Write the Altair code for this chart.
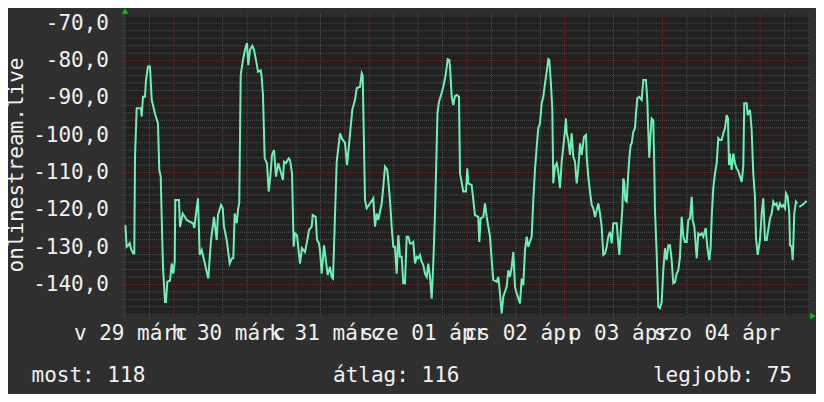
import altair as alt
import pandas as pd

# ---------------- data ----------------
series_name = "onlinestream.live"

hours = [
    0.1, 0.4, 0.8, 1.15, 1.47, 2.04, 2.28, 2.46, 2.87, 3.93, 4.10, 4.42, 4.91, 5.16, 5.65, 6.14,
    6.56, 6.95, 7.44, 8.10, 8.42, 8.77, 8.96, 9.33, 9.82, 10.07, 10.39, 11.05, 11.47, 11.86, 12.21,
    12.35, 13.26, 13.51, 14.17, 15.15, 15.96, 16.70, 17.02, 17.44, 17.93, 18.35, 18.84, 19.23, 20.46,
    21.12, 21.86, 22.52, 22.84, 23.58, 24.00, 24.32, 24.98, 25.72, 26.28, 26.60, 26.94, 27.43, 27.75,
    28.07, 28.42, 28.98, 29.47, 29.96, 30.28, 30.70, 31.27, 31.68, 32.17, 32.67, 33.33, 33.57, 33.89,
    34.31, 34.88, 35.29, 35.69, 36.10, 36.60, 36.84, 37.09, 37.65, 38.81, 39.05, 39.54, 40.21, 40.53,
    41.02, 41.43, 41.75, 42.25, 42.98, 43.47, 44.21, 44.63, 45.19, 45.86, 46.10, 46.84, 47.16, 47.65,
    47.89, 48.31, 48.88, 49.78, 50.35, 50.77, 51.09, 52.00, 52.81, 53.30, 54.03, 54.53, 55.02, 55.83,
    56.49, 56.91, 57.72, 58.14, 58.38, 58.95, 59.36, 60.17, 60.99, 61.40, 61.82, 62.21, 63.05, 63.44,
    63.86, 64.42, 65.09, 65.50, 65.90, 66.31, 66.73, 67.13, 67.54, 67.96, 68.35, 68.77, 69.19, 69.58,
    70.00, 70.42, 70.81, 71.23, 71.64, 72.04, 72.45, 72.87, 73.27, 73.68, 74.10, 74.49, 74.91, 75.33,
    75.72, 76.14, 76.51, 76.75, 77.12, 77.78, 78.18, 78.77, 79.26, 79.65, 79.82, 80.24, 80.63, 81.05,
    81.47, 82.03, 82.28, 83.09, 83.75, 84.07, 84.32, 85.15, 85.96, 86.77, 87.02, 87.36, 88.00, 88.42,
    88.84, 89.65, 90.06, 90.46, 91.29, 91.69, 92.10, 92.52, 92.91, 93.75, 94.14, 94.56, 94.98, 95.37,
    95.79, 96.21, 97.02, 97.43, 97.83, 98.24, 98.66, 99.05, 99.89, 100.28, 100.70, 101.12, 101.51,
    101.93, 102.35, 102.74, 103.16, 103.57, 103.97, 104.21, 104.56, 104.95, 105.19, 105.61, 106.03,
    106.42, 106.84, 107.26, 107.65, 108.07, 108.31, 108.48, 108.88, 109.30, 109.71, 110.11, 110.52,
    110.94, 111.33, 111.75, 112.17, 112.73, 113.23, 113.40, 113.79, 114.21, 114.63, 115.02, 115.44,
    115.85, 116.25, 116.67, 117.08, 117.48, 117.89, 118.31, 118.70, 119.12, 119.54, 119.93, 120.77,
    121.16, 121.41, 121.75, 122.14, 122.39, 122.63, 122.88, 123.22, 123.61, 123.86, 124.20, 124.45,
    124.84, 125.26, 125.51, 125.83, 126.32, 126.90, 127.30, 127.96, 128.28, 128.53, 128.77, 129.07,
    129.36, 129.76, 129.98, 130.17, 130.59, 130.99, 131.40, 131.82, 132.21, 132.63, 133.05, 133.44,
    133.86, 134.27, 134.67, 135.09, 135.50, 135.90, 136.31, 136.73, 137.13, 137.54, 137.96, 138.35,
    138.77, 139.19, 139.43, 139.83, 140.42, 140.81, 141.23, 141.65, 142.04, 142.63, 143.02, 143.51,
    143.85, 144.10, 144.49, 144.91, 145.33, 145.72, 146.14, 146.55, 146.95, 147.37, 147.78, 148.10,
    148.35, 148.59, 149.01, 149.40, 149.82, 150.24, 150.63, 151.05, 151.46, 151.86, 152.10, 152.69,
    152.94, 153.51, 153.92, 154.31, 154.73, 154.98, 155.40, 155.96, 156.38, 156.77, 157.19, 157.61,
    158.00, 158.42, 158.84, 159.23, 159.65, 160.06, 160.46, 160.87, 161.29, 161.68, 162.10, 162.35,
    162.76, 163.16, 163.33, 163.75, 163.99, 164.14, 164.38, 164.80, 165.12, 165.40, 165.61, 166.60,
    167.43,
]

values = [
    -124.1, -129.9, -129.5, -128.9, -130.5, -131.7, -131.7, -105.7, -92.8, -92.8, -95.0, -89.7, -89.7,
    -85.2, -81.6, -81.6, -90.5, -92.3, -94.6, -96.8, -109.3, -111.0, -119.6, -135.3, -144.7, -144.7,
    -139.3, -139.0, -134.4, -137.1, -134.0, -117.4, -117.4, -124.6, -121.0, -122.7, -123.2, -123.6,
    -124.9, -121.0, -116.9, -132.1, -130.8, -132.6, -138.4, -128.1, -121.9, -128.1, -121.4, -118.7,
    -119.6, -124.6, -128.1, -134.4, -133.0, -133.0, -121.0, -123.6, -120.1, -118.0, -83.9, -79.8,
    -77.1, -75.3, -81.2, -77.1, -76.0, -77.1, -79.8, -83.0, -82.6, -84.3, -89.2, -106.2, -107.5,
    -115.1, -111.1, -105.3, -104.0, -107.5, -111.1, -107.5, -112.0, -107.1, -107.5, -106.2, -106.7,
    -110.2, -129.9, -126.3, -126.8, -134.4, -130.3, -131.3, -129.0, -125.4, -124.5, -121.4, -121.9,
    -128.1, -129.0, -130.8, -137.1, -129.5, -137.5, -135.3, -138.0, -138.4, -107.1, -99.5, -101.0,
    -102.0, -108.0, -102.5, -93.2, -90.5, -87.4, -87.0, -83.4, -84.0, -117.4, -119.6, -118.3, -116.9,
    -124.5, -121.0, -122.7, -118.3, -113.8, -108.4, -109.3, -117.4, -124.6, -129.9, -129.9, -137.1,
    -126.8, -132.6, -132.6, -139.7, -139.7, -127.2, -127.2, -129.0, -129.0, -128.6, -134.4, -132.6,
    -133.0, -132.1, -133.9, -134.8, -137.1, -138.0, -134.4, -138.0, -143.8, -134.4, -121.0, -105.0,
    -94.0, -91.0, -88.7, -87.0, -83.8, -79.6, -79.8, -81.6, -89.7, -91.9, -89.5, -89.2, -89.7,
    -110.2, -115.1, -115.1, -108.9, -112.9, -113.4, -121.4, -121.9, -128.6, -122.3, -121.9, -118.3,
    -121.9, -127.2, -133.4, -138.8, -139.3, -138.0, -142.4, -147.8, -143.3, -140.6, -136.2, -138.0,
    -135.3, -131.3, -140.6, -142.4, -145.1, -138.4, -140.2, -130.8, -127.2, -129.9, -127.2, -117.4,
    -109.3, -103.1, -98.1, -96.8, -91.4, -89.7, -86.1, -83.0, -79.6, -79.8, -85.2, -92.8, -112.9,
    -108.4, -107.5, -109.8, -114.2, -107.1, -103.1, -98.6, -95.5, -99.5, -101.3, -105.3, -99.5,
    -105.8, -107.1, -112.9, -108.9, -102.2, -105.3, -100.4, -99.9, -105.8, -111.1, -115.1, -118.7,
    -119.6, -121.9, -120.1, -118.3, -121.0, -124.5, -132.1, -131.7, -129.9, -127.2, -125.9, -129.0,
    -123.6, -123.6, -129.0, -132.1, -126.3, -120.1, -111.6, -112.5, -117.4, -117.8, -110.2, -106.2,
    -102.6, -102.2, -99.1, -98.1, -94.1, -90.1, -89.7, -90.5, -85.2, -85.2, -90.5, -99.0, -106.0,
    -100.0, -95.5, -96.0, -107.5, -120.1, -131.7, -146.0, -146.4, -144.7, -136.2, -130.3, -133.5,
    -129.5, -129.5, -133.5, -139.7, -139.4, -137.1, -136.2, -132.6, -121.9, -127.2, -128.6, -128.6,
    -122.7, -122.3, -116.5, -122.7, -124.5, -133.0, -126.3, -126.8, -126.3, -127.2, -124.9, -129.9,
    -133.5, -129.9, -121.9, -114.2, -110.2, -107.5, -100.8, -101.3, -101.3, -99.5, -98.1, -94.6,
    -95.5, -108.0, -104.9, -109.3, -104.9, -107.5, -108.9, -109.6, -111.1, -112.5, -108.4, -91.4,
    -91.4, -94.6, -93.2, -98.6, -110.2, -116.5, -127.6, -132.1, -128.1, -121.0, -116.9, -128.1,
    -128.1, -125.4, -122.3, -121.0, -117.8, -118.7, -118.3, -120.1, -118.3, -119.2, -118.7, -119.6,
    -115.6, -116.5, -121.0, -129.5, -129.9, -133.5, -129.5, -121.0, -117.8, -118.3, None, -119.2,
    -118.5, -117.6,
]

y_tick_values = [-140, -130, -120, -110, -100, -90, -80, -70]
day_labels = ["v 29 márc", "h 30 márc", "k 31 márc", "sze 01 ápr", "cs 02 ápr", "p 03 ápr", "szo 04 ápr"]
label_hours = [1.3, 25.3, 49.3, 73.3, 97.3, 121.3, 145.3]
major_x = [12, 36, 60, 84, 108, 132, 156]
minor_x = [h for h in range(0, 169, 6) if h not in major_x]
major_y = y_tick_values
minor_y = [v for v in range(-148, -67, 2) if v not in major_y]

most_value = 118
average_value = 116
best_value = 75

# ---------------- layout / style ----------------
W, H = 684, 301
X_DOMAIN = [0, 168]
Y_DOMAIN = [-148.2, -67.5]
FONT = "DejaVu Sans Mono"
FS = 21
TEXT = "#f0f0f0"
LINE = "#6ef0b4"
GRID_MINOR = "#4f4f4f"
GRID_MAJOR = "#6e2c2c"
ARROW = "#00cc00"

# gap handling: a None value starts a new segment
seg, segs = 0, []
for v in values:
    if v is None:
        seg += 1
    segs.append(seg)
df = pd.DataFrame({"h": hours, "v": values, "seg": segs}).dropna()

xs = alt.Scale(domain=X_DOMAIN, nice=False, zero=False)
ys = alt.Scale(domain=Y_DOMAIN, nice=False, zero=False)

label_expr_x = "[" + ",".join("'" + s + "'" for s in day_labels) + "][round((datum.value - 1.3) / 24)]"
label_expr_y = "(datum.value < 0 ? '-' : '') + replace(format(abs(datum.value), '.1f'), '.', ',')"

x_axis = alt.Axis(
    values=label_hours,
    labelExpr=label_expr_x,
    ticks=False,
    tickSize=0,
    grid=False,
    domain=False,
    labelFont=FONT,
    labelFontSize=FS,
    labelColor=TEXT,
    labelBaseline="alphabetic",
    labelAlign="center",
    labelPadding=24.5,
    labelOverlap=False,
    labelFlush=False,
    title=None,
)

y_axis = alt.Axis(
    values=y_tick_values,
    labelExpr=label_expr_y,
    ticks=False,
    tickSize=0,
    grid=False,
    domain=False,
    labelFont=FONT,
    labelFontSize=FS,
    labelColor=TEXT,
    labelBaseline="middle",
    labelAlign="right",
    labelPadding=16.5,
    labelOverlap=False,
    labelFlush=False,
    title=series_name,
    titleFont=FONT,
    titleFontSize=FS,
    titleFontWeight="normal",
    titleColor=TEXT,
    titleAngle=270,
    titleAlign="center",
    titleBaseline="middle",
    titleX=-109,
    titleY=H / 2,
)

def vrules(vals, color):
    return alt.Chart(pd.DataFrame({"h": vals})).mark_rule(
        color=color, strokeWidth=1, strokeDash=[1, 1]
    ).encode(
        x=alt.X("h:Q", scale=xs, axis=x_axis),
        y=alt.value(0),
        y2=alt.value(H + 3),
    )

def hrules(vals, color):
    return alt.Chart(pd.DataFrame({"v": vals})).mark_rule(
        color=color, strokeWidth=1, strokeDash=[1, 1]
    ).encode(
        y=alt.Y("v:Q", scale=ys, axis=y_axis),
        x=alt.value(-3),
        x2=alt.value(W),
    )

line = alt.Chart(df).mark_line(color=LINE, strokeWidth=2, interpolate="linear").encode(
    x=alt.X("h:Q", scale=xs, axis=x_axis),
    y=alt.Y("v:Q", scale=ys, axis=y_axis),
    detail="seg:N",
)

def legend_text(txt, xpos, align):
    return alt.Chart(pd.DataFrame({"t": [txt]})).mark_text(
        font=FONT, fontSize=FS, color=TEXT, align=align, baseline="alphabetic"
    ).encode(text="t:N", x=alt.value(xpos), y=alt.value(367.7))

leg_most = legend_text(f"most: {most_value}", -93.5, "left")
leg_avg = legend_text(f"átlag: {average_value}", 208, "left")
leg_best = legend_text(f"legjobb: {best_value}", 667, "right")

one = pd.DataFrame({"a": [0]})
arrow_up = alt.Chart(one).mark_point(
    shape="triangle-up", filled=True, size=40, color=ARROW, opacity=1, strokeWidth=0
).encode(x=alt.value(0), y=alt.value(-3))
arrow_right = alt.Chart(one).mark_point(
    shape="triangle-right", filled=True, size=40, color=ARROW, opacity=1, strokeWidth=0
).encode(x=alt.value(W + 4), y=alt.value(H + 1))

chart = alt.layer(
    vrules(minor_x, GRID_MINOR),
    hrules(minor_y, GRID_MINOR),
    vrules(major_x, GRID_MAJOR),
    hrules(major_y, GRID_MAJOR),
    line,
    leg_most,
    leg_avg,
    leg_best,
    arrow_up,
    arrow_right,
).properties(
    width=W,
    height=H,
    autosize=alt.AutoSizeParams(type="none"),
    padding={"left": 117, "top": 6, "right": 7, "bottom": 79},
    background="#2f2f2f",
).configure_view(
    fill="#212121",
    stroke="transparent",
)

chart.save("out.html", embed_options={"renderer": "svg", "actions": False})
